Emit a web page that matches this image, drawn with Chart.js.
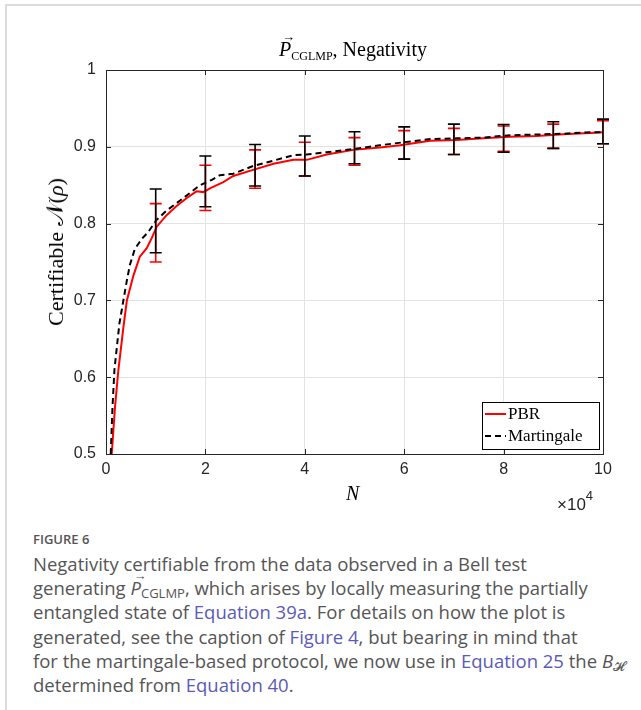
<!DOCTYPE html>
<html>
<head>
<meta charset="utf-8">
<script src="https://cdn.jsdelivr.net/npm/chart.js@4.4.1/dist/chart.umd.min.js"></script>
<style>
  body { margin: 0; background: #fff; width: 641px; height: 710px; overflow: hidden; position: relative; }
  #frame { position: absolute; left: 5px; top: 4px; width: 700px; height: 720px;
           border-left: 2px solid #dcdcdc; border-top: 2px solid #dcdcdc; }
  #wrap { position: absolute; left: 0; top: 0; width: 641px; height: 520px; }
  .serif { font-family: "Liberation Serif", "DejaVu Serif", serif; color: #000; }
  #title { position: absolute; left: 0; width: 706px; top: 38px; text-align: center; font-size: 20px; white-space: nowrap; }
  .vec { position: relative; font-style: italic; }
  .vec::after { content: "\2192"; position: absolute; left: 3px; top: -9px; font-size: 13px; font-style: normal; }
  #title sub { font-size: 12px; vertical-align: -4px; }
  #ylabel { position: absolute; left: 55px; top: 252px; transform: translate(-50%, -50%) rotate(-90deg);
            font-size: 22px; white-space: nowrap; }
  #ylabel .cal { font-family: "DejaVu Serif", serif; font-size: 24px; }
  #xlabel { position: absolute; left: 346px; top: 482px; font-size: 20px; font-style: italic; }
  #xexp { position: absolute; left: 557px; top: 488px; font-family: "Liberation Sans", Arial, sans-serif; font-size: 17px; color: #262626; }
  #xexp sup { font-size: 13px; vertical-align: 10px; }
  #caption { position: absolute; left: 33px; top: 530px; width: 600px; font-family: "Open Sans", "Noto Sans", sans-serif; color: #555; }
  #caption .fig { font-size: 13px; font-weight: 600; }
  #caption .txt { font-size: 18.5px; line-height: 24.2px; white-space: nowrap; margin-top: 4px; }
  #caption .lk { color: #5a5ab8; }
  #caption .sub { font-size: 13px; line-height: 0; vertical-align: -3px; }
  #caption .vec::after { left: 3px; top: -12px; font-size: 13px; }
</style>
</head>
<body>
<div id="frame"></div>
<div id="wrap"><canvas id="chart" width="641" height="520"></canvas></div>
<div id="title" class="serif"><span class="vec">P</span><sub>CGLMP</sub>, Negativity</div>
<div id="ylabel" class="serif">Certifiable <span class="cal">𝒩</span>(<i>ρ</i>)</div>
<div id="xlabel" class="serif">N</div>
<div id="xexp">×10<sup>4</sup></div>
<div id="caption">
  <div class="fig">FIGURE 6</div>
  <div class="txt">Negativity certifiable from the data observed in a Bell test<br>generating <span class="vec">P</span><span class="sub">CGLMP</span>, which arises by locally measuring the partially<br>entangled state of <span class="lk">Equation 39a</span>. For details on how the plot is<br>generated, see the caption of <span class="lk">Figure 4</span>, but bearing in mind that<br>for the martingale-based protocol, we now use in <span class="lk">Equation 25</span> the <i>B</i><span class="sub">𝓗</span><br>determined from <span class="lk">Equation 40</span>.</div>
</div>
<script>
// N in units of 10^4
const xTicks = [0, 2, 4, 6, 8, 10];
const yTicks = [0.5, 0.6, 0.7, 0.8, 0.9, 1];

const pbrN = [0.115, 0.18, 0.25, 0.35, 0.42, 0.55, 0.68, 0.82, 0.92, 1.02, 1.22, 1.42, 1.62, 1.82, 1.96, 2.09, 2.36, 2.56, 2.96, 3.37, 3.77, 4.04, 4.44, 4.98, 5.51, 5.92, 6.52, 7.06, 7.59, 8.13, 8.67, 9.2, 9.74, 10];
const pbrNeg = [0.50, 0.56, 0.61, 0.665, 0.70, 0.732, 0.757, 0.768, 0.781, 0.796, 0.811, 0.823, 0.833, 0.842, 0.841, 0.846, 0.854, 0.862, 0.870, 0.878, 0.883, 0.883, 0.890, 0.896, 0.899, 0.902, 0.908, 0.909, 0.911, 0.913, 0.914, 0.9165, 0.918, 0.919];

const martN = [0.095, 0.13, 0.17, 0.27, 0.35, 0.42, 0.48, 0.58, 0.72, 0.85, 1.02, 1.22, 1.49, 1.69, 1.89, 2.13, 2.29, 2.56, 2.96, 3.37, 3.77, 4.04, 4.44, 4.98, 5.51, 6.0, 6.52, 7.06, 7.59, 8.13, 8.67, 9.2, 9.74, 10];
const martNeg = [0.50, 0.56, 0.61, 0.67, 0.70, 0.726, 0.746, 0.767, 0.780, 0.789, 0.805, 0.817, 0.830, 0.840, 0.850, 0.857, 0.863, 0.865, 0.875, 0.882, 0.889, 0.890, 0.893, 0.897, 0.902, 0.906, 0.910, 0.911, 0.912, 0.915, 0.916, 0.917, 0.919, 0.919];

// error bars
const errN = [1, 2, 3, 4, 5, 6, 7, 8, 9, 10];
const pbrLow = [0.750, 0.817, 0.846, 0.862, 0.876, 0.884, 0.890, 0.894, 0.898, 0.904];
const pbrHigh = [0.826, 0.876, 0.896, 0.906, 0.912, 0.921, 0.924, 0.927, 0.9295, 0.934];
const martLow = [0.762, 0.822, 0.849, 0.862, 0.878, 0.884, 0.890, 0.893, 0.898, 0.904];
const martHigh = [0.845, 0.888, 0.903, 0.914, 0.9195, 0.926, 0.9295, 0.929, 0.9326, 0.936];

const axisColor = '#262626';

const errorBars = {
  id: 'errorBars',
  afterDatasetsDraw(chart) {
    const { ctx, scales: { x, y } } = chart;
    const sets = [
      { lo: pbrLow, hi: pbrHigh, color: '#ff0000' },
      { lo: martLow, hi: martHigh, color: '#000000' }
    ];
    ctx.save();
    ctx.lineWidth = 1.6;
    sets.forEach(s => {
      ctx.strokeStyle = s.color;
      errN.forEach((n, i) => {
        const px = x.getPixelForValue(n);
        const y1 = y.getPixelForValue(s.lo[i]);
        const y2 = y.getPixelForValue(s.hi[i]);
        ctx.beginPath();
        ctx.moveTo(px, y1); ctx.lineTo(px, y2);
        ctx.moveTo(px - 6, y1); ctx.lineTo(px + 6, y1);
        ctx.moveTo(px - 6, y2); ctx.lineTo(px + 6, y2);
        ctx.stroke();
      });
    });
    ctx.restore();
  }
};

// box with inward ticks on all four sides (MATLAB style) + legend
const boxAxes = {
  id: 'boxAxes',
  afterDraw(chart) {
    const { ctx, chartArea: a, scales: { x, y } } = chart;
    ctx.save();
    ctx.strokeStyle = axisColor;
    ctx.lineWidth = 1;
    ctx.strokeRect(a.left + 0.5, a.top + 0.5, a.right - a.left, a.bottom - a.top);
    ctx.beginPath();
    xTicks.forEach(v => {
      const px = Math.round(x.getPixelForValue(v)) + 0.5;
      ctx.moveTo(px, a.bottom); ctx.lineTo(px, a.bottom - 5);
      ctx.moveTo(px, a.top); ctx.lineTo(px, a.top + 5);
    });
    yTicks.forEach(v => {
      const py = Math.round(y.getPixelForValue(v)) + 0.5;
      ctx.moveTo(a.left, py); ctx.lineTo(a.left + 5, py);
      ctx.moveTo(a.right, py); ctx.lineTo(a.right - 5, py);
    });
    ctx.stroke();

    const w = 117, h = 47;
    const lx = a.right - 4 - w, ly = a.bottom - 5 - h;
    ctx.fillStyle = '#fff';
    ctx.fillRect(lx, ly, w, h);
    ctx.strokeStyle = '#000';
    ctx.strokeRect(lx + 0.5, ly + 0.5, w, h);
    ctx.font = '17px "Liberation Serif", "DejaVu Serif", serif';
    ctx.textBaseline = 'middle';
    chart.data.datasets.forEach((ds, i) => {
      const yy = ly + 12 + i * 22;
      ctx.strokeStyle = ds.borderColor;
      ctx.lineWidth = 2;
      ctx.setLineDash(ds.borderDash || []);
      ctx.beginPath();
      ctx.moveTo(lx + 3, yy); ctx.lineTo(lx + 24, yy);
      ctx.stroke();
      ctx.setLineDash([]);
      ctx.fillStyle = '#000';
      ctx.fillText(ds.label, lx + 26, yy + 1);
    });
    ctx.restore();
  }
};

new Chart(document.getElementById('chart'), {
  type: 'scatter',
  data: {
    datasets: [
      {
        label: 'PBR',
        data: pbrN.map((n, i) => ({ x: n, y: pbrNeg[i] })),
        showLine: true,
        borderColor: '#ff0000',
        borderWidth: 2,
        pointRadius: 0,
        order: 2
      },
      {
        label: 'Martingale',
        data: martN.map((n, i) => ({ x: n, y: martNeg[i] })),
        showLine: true,
        borderColor: '#000000',
        borderWidth: 2,
        borderDash: [6, 4],
        pointRadius: 0,
        order: 1
      }
    ]
  },
  plugins: [errorBars, boxAxes],
  options: {
    responsive: false,
    animation: false,
    layout: { padding: { left: 0, top: 70, right: 38, bottom: 36 } },
    plugins: { legend: { display: false }, tooltip: { enabled: false } },
    scales: {
      x: {
        type: 'linear', min: 0, max: 10,
        afterBuildTicks: s => { s.ticks = xTicks.map(v => ({ value: v })); },
        afterFit: s => { s.height = 30; },
        grid: { color: '#e3e3e3', drawTicks: false },
        border: { display: false },
        ticks: { color: axisColor, padding: 6, font: { family: '"Liberation Sans", Arial, sans-serif', size: 16 } }
      },
      y: {
        min: 0.5, max: 1,
        afterBuildTicks: s => { s.ticks = yTicks.map(v => ({ value: v })); },
        afterFit: s => { s.width = 106; },
        grid: { color: '#e3e3e3', drawTicks: false },
        border: { display: false },
        ticks: { color: axisColor, padding: 10, font: { family: '"Liberation Sans", Arial, sans-serif', size: 16 },
                 callback: v => (v === 1 ? '1' : v.toFixed(1)) }
      }
    }
  }
});
</script>
</body>
</html>
